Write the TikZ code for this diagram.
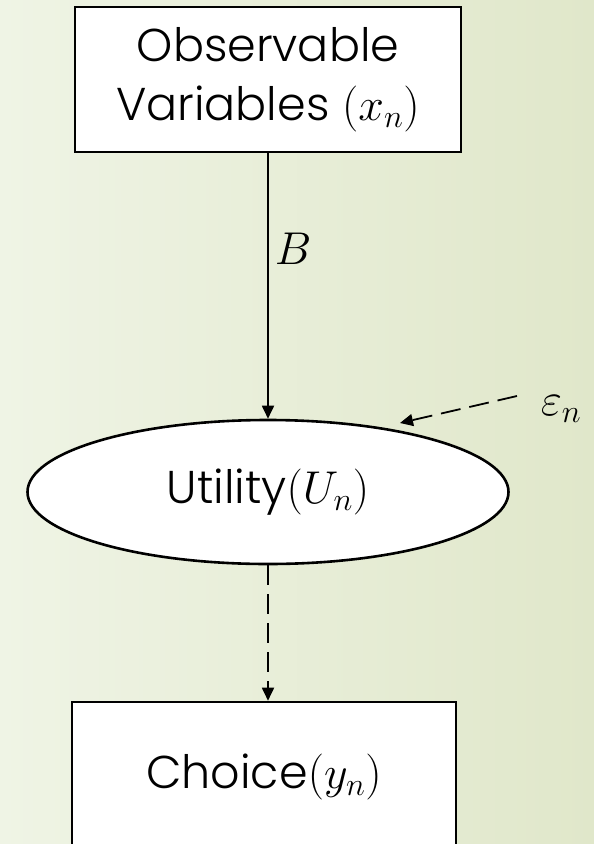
\RequirePackage{fix-cm}
\documentclass[tikz,border=0pt]{standalone}
\usepackage{fontspec}
\IfFontExistsTF{Poppins Light}{\setmainfont{Poppins Light}}{\setmainfont{Poppins}}
\usetikzlibrary{arrows.meta,shapes.geometric}
\definecolor{bgL}{RGB}{239,244,229}
\definecolor{bgR}{RGB}{224,231,202}
\tikzset{
  boxnode/.style={draw=black, line width=2.6pt, fill=white, rectangle, inner sep=0pt, align=center},
  ellnode/.style={draw=black, line width=2.6pt, fill=white, ellipse, inner sep=0pt},
  conn/.style={line width=1.8pt, -{Triangle[length=13pt,width=12pt]}},
  dconn/.style={conn, dash pattern=on 20pt off 9pt},
  lbl/.style={inner sep=0pt}
}
\begin{document}
\begin{tikzpicture}[x=1pt,y=-1pt,font=\fontsize{46}{59}\selectfont]
\useasboundingbox (0,0) rectangle (594,844);
\shade[left color=bgL,right color=bgR] (0,0) rectangle (594,844);
\node[boxnode, minimum width=386pt, minimum height=145pt] (obs) at (268,79.5) {Observable\\Variables $(x_n)$};
\node[ellnode, minimum width=481pt, minimum height=144pt] (util) at (268,492) {Utility$(U_n)$};
\node[boxnode, minimum width=384pt, minimum height=150pt] (choice) at (264,777) {Choice$(y_n)$};
\coordinate (es) at (517,396);
\coordinate (et) at (400,423);
\node[lbl] (eps) at (561,409) {$\varepsilon_n$};
\draw[conn] (obs.south -| util.north) -- node[pos=0.36, right=6pt, lbl] (B) {$B$} (util.north);
\draw[dconn] (util.south) -- (util.south |- choice.north);
\draw[conn, dash pattern=on 20pt off 9pt] (es) -- (et);
\end{tikzpicture}
\end{document}
